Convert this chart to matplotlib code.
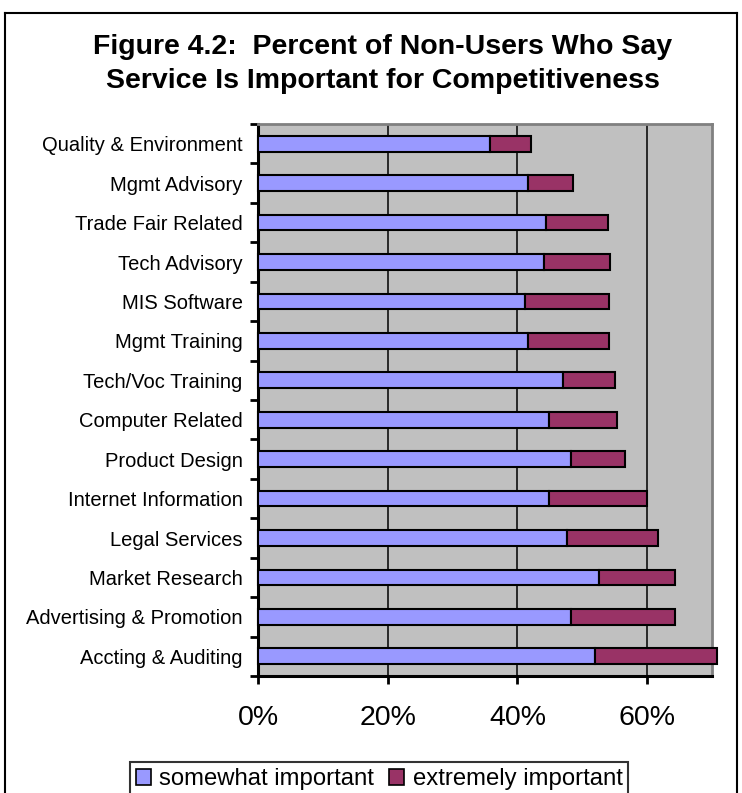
import matplotlib
matplotlib.use('Agg')
import matplotlib.pyplot as plt
import numpy as np
from matplotlib.patches import Patch
from matplotlib.lines import Line2D

categories = ['Quality & Environment', 'Mgmt Advisory', 'Trade Fair Related',
              'Tech Advisory', 'MIS Software', 'Mgmt Training',
              'Tech/Voc Training', 'Computer Related', 'Product Design',
              'Internet Information', 'Legal Services', 'Market Research',
              'Advertising & Promotion', 'Accting & Auditing']
somewhat = [35.8, 41.7, 44.4, 44.1, 41.1, 41.7, 47.0, 44.9, 48.2, 44.9, 47.6, 52.5, 48.3, 51.9]
total = [42.1, 48.6, 53.9, 54.2, 54.1, 54.1, 55.1, 55.4, 56.6, 60.0, 61.6, 64.3, 64.3, 70.8]
extremely = [t - s for t, s in zip(total, somewhat)]
xticks = [0, 20, 40, 60]
xtick_labels = ['0%', '20%', '40%', '60%']

plt.rcParams['font.family'] = ['Liberation Sans', 'DejaVu Sans']

fig = plt.figure(figsize=(7.42, 7.93), dpi=100)
W, H = 742, 793
ax = fig.add_axes([258/W, 1-676/H, 454/W, (676-124)/H])
ax.set_facecolor('#C0C0C0')

y = np.arange(len(categories))
ax.barh(y, somewhat, height=0.4, color='#9999FF', edgecolor='black', linewidth=1.5,
        zorder=3, clip_on=False)
ax.barh(y, extremely, left=somewhat, height=0.4, color='#993366', edgecolor='black',
        linewidth=1.5, zorder=3, clip_on=False)

ax.set_xlim(0, 70)
ax.set_ylim(len(categories)-0.5, -0.5)
ax.set_xticks(xticks)
ax.set_xticklabels(xtick_labels, fontsize=20.5)
ax.xaxis.grid(True, color='black', linewidth=1.1, zorder=1)
ax.set_axisbelow(True)
ax.set_yticks(y)
ax.set_yticklabels(categories, fontsize=14.5)
ax.set_yticks(np.arange(len(categories)+1) - 0.5, minor=True)
ax.tick_params(axis='y', which='major', length=0, pad=11)
ax.tick_params(axis='y', which='minor', length=6, width=2, direction='out')
ax.tick_params(axis='x', length=6, width=2, direction='out', pad=15)

ax.spines['left'].set_linewidth(2.2)
ax.spines['bottom'].set_linewidth(2.2)
for s in ['top', 'right']:
    ax.spines[s].set_color('#808080')
    ax.spines[s].set_linewidth(2)

fig.text(383/W, 1-47/H, 'Figure 4.2:  Percent of Non-Users Who Say', ha='center', va='center',
         fontsize=20.5, fontweight='bold')
fig.text(383/W, 1-81/H, 'Service Is Important for Competitiveness', ha='center', va='center',
         fontsize=20.5, fontweight='bold')

# outer chart border
bx0, bx1, by0 = 5/W, 737/W, 1-13/H
for xs, ys in [([bx0, bx0], [0, by0]), ([bx0, bx1], [by0, by0]), ([bx1, bx1], [by0, 0])]:
    fig.add_artist(Line2D(xs, ys, color='black', linewidth=1.5, transform=fig.transFigure))

handles = [Patch(facecolor='#9999FF', edgecolor='black', linewidth=1.2),
           Patch(facecolor='#993366', edgecolor='black', linewidth=1.2)]
leg = fig.legend(handles, ['somewhat important', 'extremely important'], ncol=2,
                 loc='upper center', bbox_to_anchor=(379/W, 1-762/H), borderaxespad=0,
                 fontsize=17.2, frameon=True, fancybox=False, handlelength=0.65,
                 handleheight=0.65, handletextpad=0.35, columnspacing=0.6, borderpad=0.25)
leg.get_frame().set_edgecolor('black')
leg.get_frame().set_linewidth(1.5)

fig.savefig('out.png', dpi=100)
